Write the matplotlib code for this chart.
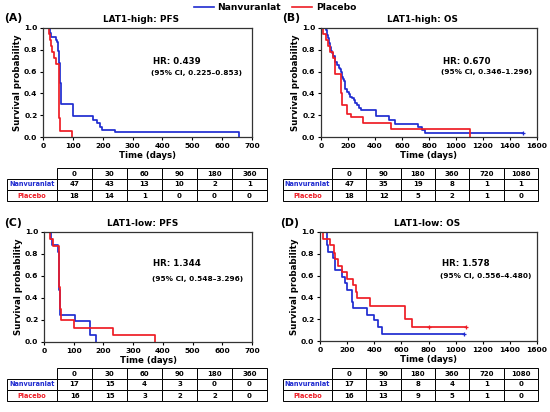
import matplotlib
matplotlib.use("Agg")
import matplotlib.pyplot as plt
from matplotlib.lines import Line2D

W, H = 550, 412
BLUE = "#1f2bd0"
RED = "#ee1c25"

# ---- curve data (time in days, survival probability) ----
a_nan_t = [0, 22, 24, 26, 28, 42, 46, 49, 51, 53, 55, 57, 60, 100, 168, 180, 190, 198, 240, 655]
a_nan_s = [1, .979, .957, .936, .915, .89, .87, .83, .79, .74, .68, .50, .30, .195, .16, .125, .095, .065, .043, 0]
a_pla_t = [0, 20, 24, 27, 30, 38, 44, 53, 55, 57, 97]
a_pla_s = [1, .944, .889, .833, .778, .722, .667, .39, .17, .056, 0]

b_nan_t = [0, 35, 42, 50, 57, 65, 75, 81, 90, 100, 106, 118, 130, 140, 150, 155, 162, 167, 175, 180,
           192, 205, 217, 230, 241, 255, 266, 280, 298, 405, 500, 549, 722, 746, 771, 1497]
b_nan_s = [1, .98, .94, .91, .86, .83, .79, .77, .74, .72, .69, .66, .63, .62, .60, .55, .53, .51, .47, .44,
           .41, .39, .37, .36, .34, .31, .29, .27, .25, .19, .16, .12, .09, .06, .04, .04]
b_pla_t = [0, 18, 35, 55, 70, 88, 100, 150, 158, 195, 220, 310, 520, 1100]
b_pla_s = [1, .944, .889, .833, .778, .722, .58, .40, .29, .21, .18, .125, .07, 0]

c_nan_t = [0, 22, 26, 47, 49, 51, 53, 55, 106, 155, 175]
c_nan_s = [1, .94, .88, .82, .65, .47, .35, .25, .19, .06, 0]
c_pla_t = [0, 20, 30, 50, 52, 54, 56, 102, 233, 372]
c_pla_s = [1, .9375, .875, .75, .5, .3, .2, .13, .065, 0]

d_nan_t = [0, 50, 55, 61, 98, 108, 160, 184, 197, 238, 242, 349, 395, 430, 455, 1065]
d_nan_s = [1, .94, .88, .82, .76, .65, .59, .53, .47, .36, .30, .24, .19, .13, .06, .06]
d_pla_t = [0, 20, 74, 100, 112, 135, 160, 200, 240, 262, 275, 372, 630, 676, 1080]
d_pla_s = [1, .94, .88, .81, .75, .69, .63, .57, .51, .45, .39, .32, .20, .13, .13]

# censor marks
b_nan_cens = ([1497], [0.04])
d_nan_cens = ([1065], [0.06])
d_pla_cens = ([800, 1080], [0.13, 0.13])

# ---- risk tables ----
cols_pfs = ["0", "30", "60", "90", "180", "360"]
cols_os = ["0", "90", "180", "360", "720", "1080"]
a_nan_risk = [47, 43, 13, 10, 2, 1]
a_pla_risk = [18, 14, 1, 0, 0, 0]
b_nan_risk = [47, 35, 19, 8, 1, 1]
b_pla_risk = [18, 12, 5, 2, 1, 0]
c_nan_risk = [17, 15, 4, 3, 0, 0]
c_pla_risk = [16, 15, 3, 2, 2, 0]
d_nan_risk = [17, 13, 8, 4, 1, 0]
d_pla_risk = [16, 13, 9, 5, 1, 0]

fig = plt.figure(figsize=(W / 100, H / 100), dpi=100)


def box(l, t, r, b):
    # pixel box (top-left origin) -> figure fraction rect
    return [l / W, 1 - b / H, (r - l) / W, (b - t) / H]


def km_panel(rect, nan, pla, xmax, xstep, title, title_x, hr, ci, hr_xy, ci_xy, cens=()):
    ax = fig.add_axes(box(*rect))
    ax.step(nan[0], nan[1], where="post", color=BLUE, lw=1.25)
    ax.step(pla[0], pla[1], where="post", color=RED, lw=1.25)
    for (xs, ys), c in cens:
        ax.plot(xs, ys, "+", color=c, ms=3.5, mew=0.9)
    ax.set_xlim(0, xmax)
    ax.set_ylim(0, 1.0)
    ax.set_xticks(range(0, xmax + 1, xstep))
    ax.set_yticks([0, .2, .4, .6, .8, 1.0])
    ax.set_yticklabels(["0.0", "0.2", "0.4", "0.6", "0.8", "1.0"])
    ax.tick_params(labelsize=5.4, length=2.5, width=0.8, pad=1.5)
    for lab in ax.get_xticklabels() + ax.get_yticklabels():
        lab.set_fontweight("bold")
    for sp in ax.spines.values():
        sp.set_linewidth(0.9)
        sp.set_color("#333333")
    ax.set_xlabel("Time (days)", fontsize=6.2, fontweight="bold", labelpad=2)
    ax.set_ylabel("Survival probability", fontsize=6.2, fontweight="bold", labelpad=1.5)
    fig.text(title_x / W, 1 - (rect[1] - 9) / H, title, ha="center", va="center",
             fontsize=6.4, fontweight="bold")
    fig.text(hr_xy[0] / W, 1 - hr_xy[1] / H, hr, ha="left", va="center",
             fontsize=6.2, fontweight="bold")
    fig.text(ci_xy[0] / W, 1 - ci_xy[1] / H, ci, ha="left", va="center",
             fontsize=5.3, fontweight="bold")
    return ax


def risk_table(rect, cols, nan_r, pla_r):
    tax = fig.add_axes(box(*rect))
    tax.axis("off")
    cells = [[""] + cols,
             ["Nanvuranlat"] + [str(v) for v in nan_r],
             ["Placebo"] + [str(v) for v in pla_r]]
    widths = [50] + [35] * len(cols)
    tot = sum(widths)
    tb = tax.table(cellText=cells, colWidths=[w / tot for w in widths],
                   cellLoc="center", bbox=[0, 0, 1, 1])
    tb.auto_set_font_size(False)
    tb.set_fontsize(5)
    for (r, c), cell in tb.get_celld().items():
        cell.set_linewidth(0.7)
        cell.get_text().set_fontweight("bold")
        if r == 0 and c == 0:
            cell.visible_edges = ""
        if c == 0 and r == 1:
            cell.get_text().set_color(BLUE)
            cell.get_text().set_fontsize(4.7)
        if c == 0 and r == 2:
            cell.get_text().set_color(RED)
            cell.get_text().set_fontsize(4.7)


km_panel((43, 28, 252, 137), (a_nan_t, a_nan_s), (a_pla_t, a_pla_s), 700, 100,
         "LAT1-high: PFS", 141, "HR: 0.439", "(95% CI, 0.225\u20130.853)", (153, 61), (151, 73))
km_panel((321, 28, 537, 137), (b_nan_t, b_nan_s), (b_pla_t, b_pla_s), 1600, 200,
         "LAT1-high: OS", 422, "HR: 0.670", "(95% CI, 0.346\u20131.296)", (443, 61), (441, 72),
         cens=[(b_nan_cens, BLUE)])
km_panel((44, 232, 252, 342), (c_nan_t, c_nan_s), (c_pla_t, c_pla_s), 700, 100,
         "LAT1-low: PFS", 143, "HR: 1.344", "(95% CI, 0.548\u20133.296)", (153, 263), (152, 279))
km_panel((320, 232, 537, 341), (d_nan_t, d_nan_s), (d_pla_t, d_pla_s), 1600, 200,
         "LAT1-low: OS", 427, "HR: 1.578", "(95% CI, 0.556\u20134.480)", (442, 263), (440, 276),
         cens=[(d_nan_cens, BLUE), (d_pla_cens, RED)])

risk_table((7, 168, 267, 201), cols_pfs, a_nan_risk, a_pla_risk)
risk_table((283, 168, 538, 201), cols_os, b_nan_risk, b_pla_risk)
risk_table((7, 368, 267, 401), cols_pfs, c_nan_risk, c_pla_risk)
risk_table((283, 368, 538, 401), cols_os, d_nan_risk, d_pla_risk)

# panel letters
for lab, x, y in [("(A)", 4, 18), ("(B)", 282, 18), ("(C)", 4, 223), ("(D)", 280, 223)]:
    fig.text(x / W, 1 - y / H, lab, ha="left", va="center", fontsize=7.8, fontweight="bold")

handles = [Line2D([], [], color=BLUE, lw=1.2, label="Nanvuranlat"),
           Line2D([], [], color=RED, lw=1.2, label="Placebo")]
fig.legend(handles=handles, loc="upper center", bbox_to_anchor=(0.5, 1.012), ncol=2,
           frameon=False, prop={"weight": "bold", "size": 6.6}, handlelength=2.2,
           handletextpad=0.4, columnspacing=1.2)

fig.savefig("out.png", dpi=100)
